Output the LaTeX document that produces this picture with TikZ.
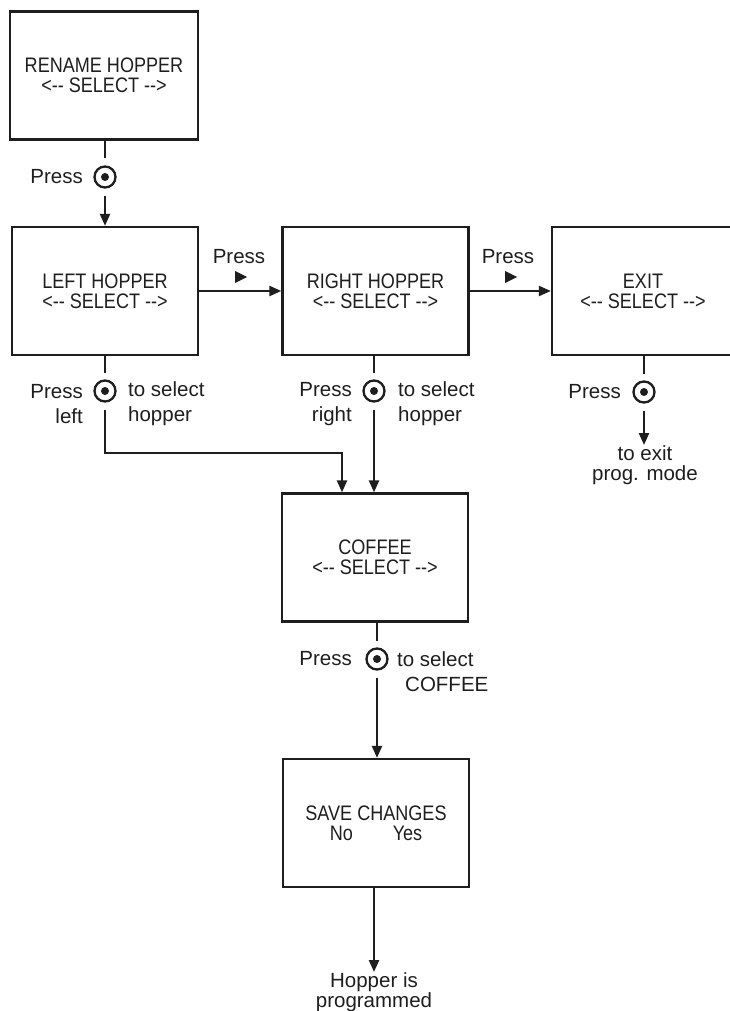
\documentclass[tikz,border=0pt]{standalone}
\usepackage{fontspec}
\setmainfont{Liberation Sans}
\newfontfamily\narrowfont[FakeStretch=0.86]{Liberation Sans}
\usetikzlibrary{arrows.meta}
\newcommand\dashdash{-\kern0pt-}
\definecolor{ink}{RGB}{30,30,30}
\begin{document}
\begin{tikzpicture}[x=1pt,y=-1pt,
  every node/.style={text=ink},
  box/.style={draw=ink, line width=2.3pt, minimum width=186pt, minimum height=128pt,
    inner sep=0pt, align=center, font=\narrowfont\fontsize{21}{20}\selectfont},
  btn/.style={draw=ink, circle, line width=2.3pt, minimum size=21pt, inner sep=0pt, outer sep=8pt,
    path picture={\fill[ink] (path picture bounding box.center) circle (4pt);}},
  lbl/.style={inner sep=0pt, font=\fontsize{20.5}{25}\selectfont},
  lbltight/.style={inner sep=0pt, font=\fontsize{20.5}{20}\selectfont},
  conn/.style={draw=ink, line width=2.3pt},
  arr/.style={conn, -{Triangle[length=12pt,width=10pt]}},
  tri/.style={fill=ink}
]
\useasboundingbox (0,0) rectangle (730,1011);

% boxes
\node[box, minimum width=188pt] (rename) at (104,75.5) {RENAME HOPPER\\<\dashdash{} SELECT \dashdash>};
\node[box] (left) at (105,291) {LEFT HOPPER\\<\dashdash{} SELECT \dashdash>};
\node[box] (right) at (375.5,291) {RIGHT HOPPER\\<\dashdash{} SELECT \dashdash>};
\node[box, minimum width=182pt] (exit) at (643,291) {EXIT\\<\dashdash{} SELECT \dashdash>};
\node[box] (coffee) at (375,557.5) {COFFEE\\<\dashdash{} SELECT \dashdash>};
\node[box] (save) at (376,823) {SAVE CHANGES\\No\hspace{1.9em}Yes};

% buttons
\node[btn] (b1) at (105,177) {};
\node[btn] (bL) at (105,391) {};
\node[btn] (bR) at (374,391) {};
\node[btn] (bE) at (644,392) {};
\node[btn] (bC) at (377,659) {};

% labels
\node[lbl, anchor=east] (p1) at (83,177) {Press};
\node[lbl, anchor=east, align=right] (pL) at (83,404) {Press\\left};
\node[lbl, anchor=west, align=left] (sL) at (128,404) {to select\\hopper};
\node[lbl, anchor=east, align=right] (pR) at (352,404) {Press\\right};
\node[lbl, anchor=west, align=left] (sR) at (398,404) {to select\\hopper};
\node[lbl, anchor=east] (pE) at (621,392) {Press};
\node[lbltight, anchor=north, align=center] (xE) at (645,445) {to exit\\prog. mode};
\node[lbl, anchor=east] (pC) at (352,659) {Press};
\node[lbl, anchor=west, align=left] (sC) at (397,672) {to select\\\hspace*{8pt}COFFEE};
\node[lbltight, anchor=north, align=center] (hop) at (374,972) {Hopper is\\programmed};
\node[lbl] (pH1) at (239,257) {Press};
\node[lbl] (pH2) at (508,257) {Press};

% small triangles
\fill[tri] (235,271) -- (247,277) -- (235,283) -- cycle;
\fill[tri] (505,271) -- (517,277) -- (505,283) -- cycle;

% connectors
\draw[conn] (rename.south -| b1) -- (b1.north);
\draw[arr] (b1.south) -- (left.north -| b1);
\draw[arr] (left.east) -- (right.west);
\draw[arr] (right.east) -- (exit.west);
\coordinate (jL) at (342,453);
\draw[conn] (left.south -| bL) -- (bL.north);
\draw[arr] (bL.south) |- (jL) -- (jL |- coffee.north);
\draw[conn] (right.south -| bR) -- (bR.north);
\draw[arr] (bR.south) -- (bR |- coffee.north);
\draw[conn] (exit.south -| bE) -- (bE.north);
\draw[arr] (bE.south) -- (bE |- xE.north);
\draw[conn] (coffee.south -| bC) -- (bC.north);
\draw[arr] (bC.south) -- (bC |- save.north);
\draw[arr] (save.south -| hop) -- (hop.north);
\end{tikzpicture}
\end{document}
